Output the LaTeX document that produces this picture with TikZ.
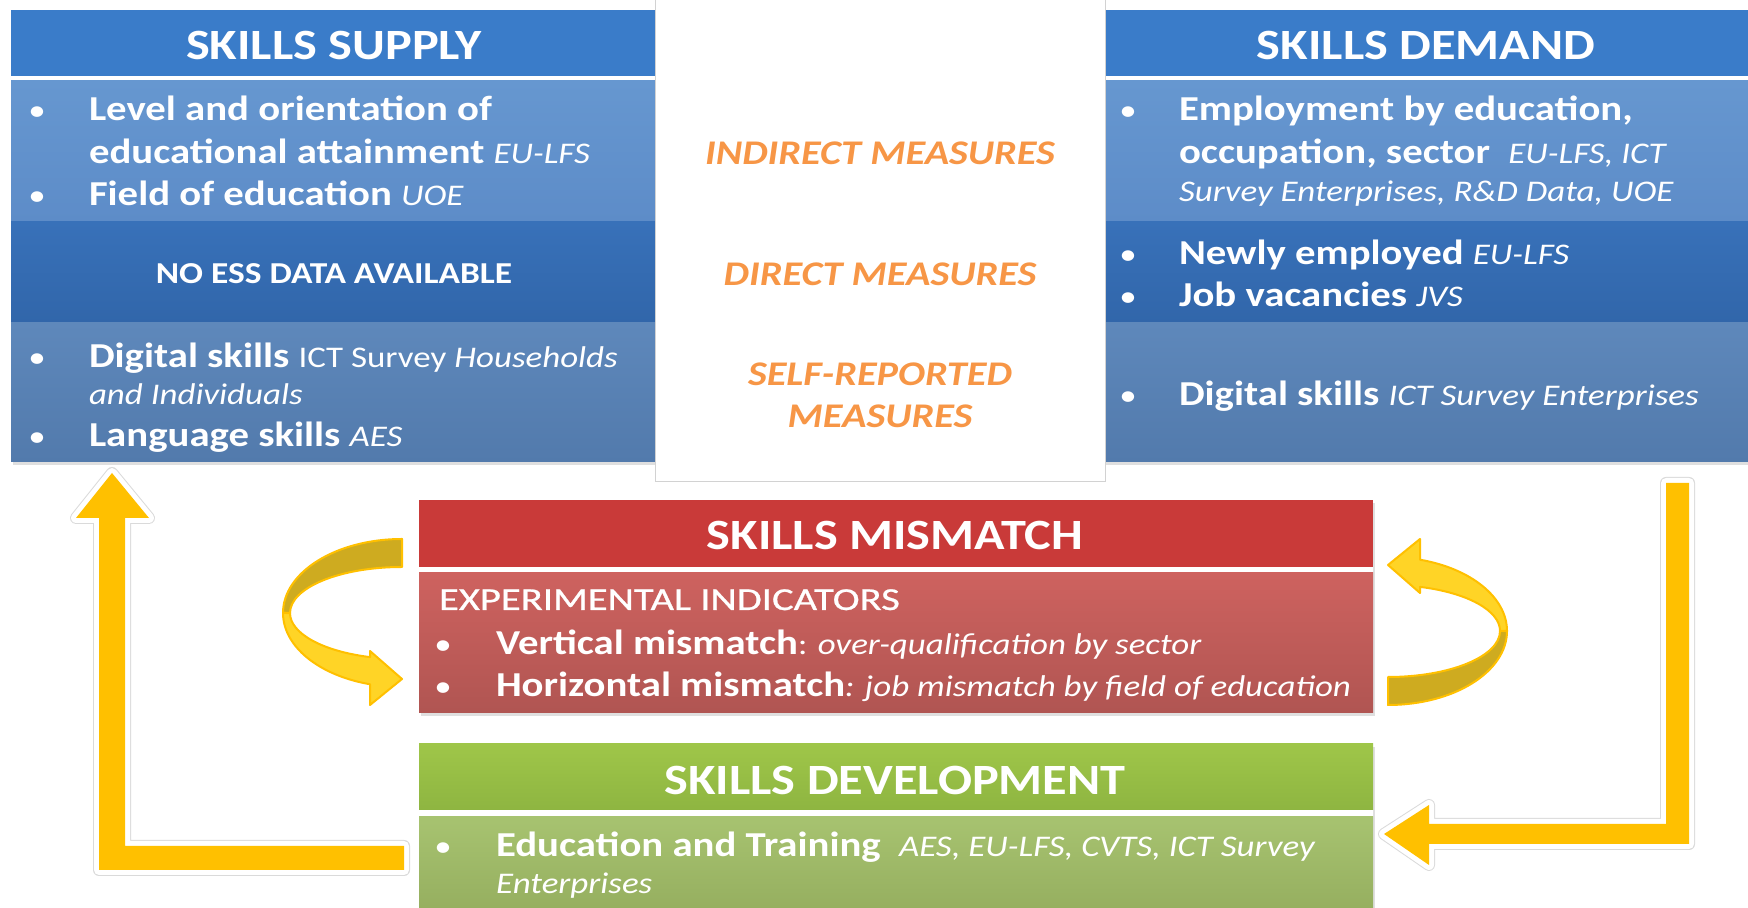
\documentclass[tikz,border=0pt]{standalone}
\usepackage{fontspec}
\setmainfont{Carlito}[FakeStretch=1.165]
\newfontfamily\widefont{Carlito}[FakeStretch=1.27,FakeBold=0.8]
\usetikzlibrary{shadows}

\newcommand\tfont{\fontsize{21.6}{25}\selectfont\bfseries\upshape}
\newcommand\bfont{\fontsize{17.5}{21}\selectfont\bfseries\upshape}
\newcommand\ifont{\fontsize{15}{18}\selectfont\mdseries\itshape}
\newcommand\rfont{\fontsize{15}{18}\selectfont\mdseries\upshape}
\newcommand\nfont{\fontsize{15.2}{17}\selectfont\bfseries\upshape}
\newcommand\efont{\widefont\fontsize{16}{18}\selectfont\mdseries\upshape}
\newcommand\ofont{\fontsize{17.3}{21}\selectfont\bfseries\itshape}

\tikzset{
  txt/.style={text=white,anchor=base west,inner sep=0pt,outer sep=0pt},
  dot/.style={text=white,anchor=base,inner sep=0pt,outer sep=0pt,font=\rfont},
  ttl/.style={text=white,anchor=base,inner sep=0pt,outer sep=0pt,font=\tfont},
  measure/.style={text=orangeColor,anchor=base,inner sep=0pt,outer sep=0pt,font=\ofont},
  boxshadow/.style={drop shadow={shadow xshift=1pt,shadow yshift=-1.5pt,opacity=0.25}},
  ribbon/.style={draw=goldColor,line width=1pt,line join=round},
  bigarrow/.style={fill=goldColor},
  rim/.style={draw=rimColor,line width=6pt,line join=round,fill=white},
  rimwhite/.style={draw=white,line width=5pt,line join=round}
}

\begin{document}
\begin{tikzpicture}[x=0.5pt,y=0.5pt]
\definecolor{fillColor}{RGB}{255,255,255}
\definecolor{orangeColor}{RGB}{247,150,70}
\definecolor{goldColor}{RGB}{255,192,0}
\definecolor{rimColor}{RGB}{218,218,218}
\path[use as bounding box,fill=fillColor] (0,0) rectangle (1748,908);

\begin{scope}
\definecolor{headColor}{RGB}{58,124,201}
\definecolor{lightTop}{RGB}{102,151,208}
\definecolor{lightBot}{RGB}{93,140,200}
\definecolor{darkTop}{RGB}{56,113,185}
\definecolor{darkBot}{RGB}{49,102,170}
\definecolor{lowTop}{RGB}{94,136,187}
\definecolor{lowBot}{RGB}{82,122,172}

\path[fill=white,boxshadow] (11,446) rectangle (655,898);
\path[fill=headColor] (11,832) rectangle (655,898);
\path[top color=lightTop,bottom color=lightBot] (11,686) rectangle (655,827);
\path[top color=darkTop,bottom color=darkBot] (11,585) rectangle (655,686);
\path[top color=lowTop,bottom color=lowBot] (11,446) rectangle (655,585);

\path[fill=white,boxshadow] (1104,446) rectangle (1748,898);
\path[fill=headColor] (1104,832) rectangle (1748,898);
\path[top color=lightTop,bottom color=lightBot] (1104,686) rectangle (1748,827);
\path[top color=darkTop,bottom color=darkBot] (1104,585) rectangle (1748,686);
\path[top color=lowTop,bottom color=lowBot] (1104,446) rectangle (1748,585);
\end{scope}

\begin{scope}
\definecolor{drawColor}{RGB}{210,210,210}

\path[draw=drawColor,line width=0.5pt,fill=white] (655,426) rectangle (1105,910);

\node (midInd) [measure] at (880,743.5) {INDIRECT MEASURES};

\node (midDir) [measure] at (880,622.5) {DIRECT MEASURES};

\node (midSelf) [measure] at (880,522.5) {SELF-REPORTED};

\node (midSelfB) [measure] at (880,480.5) {MEASURES};
\end{scope}

\begin{scope}
\node (supTitle) [ttl] at (334,848) {SKILLS SUPPLY};

\node (supB1) [dot] at (37,787) {\textbullet};

\node (supL1) [txt] at (89,787) {\bfont Level and orientation of};

\node (supL2) [txt] at (89,744.5) {\bfont educational attainment \ifont EU-LFS};

\node (supB2) [dot] at (37,702) {\textbullet};

\node (supL3) [txt] at (89,702) {\bfont Field of education \ifont UOE};

\node (supNo) [txt,anchor=base] at (334,624.5) {\nfont NO ESS DATA AVAILABLE};

\node (supB3) [dot] at (37,540.5) {\textbullet};

\node (supL4) [txt] at (89,540.5) {\bfont Digital skills \rfont ICT Survey \ifont Households};

\node (supL5) [txt] at (89,503) {\ifont and Individuals};

\node (supB4) [dot] at (37,461.4) {\textbullet};

\node (supL6) [txt] at (89,461.4) {\bfont Language skills \ifont AES};
\end{scope}

\begin{scope}
\node (demTitle) [ttl] at (1426,848) {SKILLS DEMAND};

\node (demB1) [dot] at (1128,787) {\textbullet};

\node (demL1) [txt] at (1179,787) {\bfont Employment by education,};

\node (demL2) [txt] at (1179,744.5) {\bfont occupation, sector\ \ \ifont EU-LFS, ICT};

\node (demL3) [txt] at (1179,706.4) {\ifont Survey Enterprises, R\&D Data, UOE};

\node (demB2) [dot] at (1128,643) {\textbullet};

\node (demL4) [txt] at (1179,643) {\bfont Newly employed \ifont EU-LFS};

\node (demB3) [dot] at (1128,601) {\textbullet};

\node (demL5) [txt] at (1179,601) {\bfont Job vacancies \ifont JVS};

\node (demB4) [dot] at (1128,502) {\textbullet};

\node (demL6) [txt] at (1179,502) {\bfont Digital skills \ifont ICT Survey Enterprises};
\end{scope}

\begin{scope}
\definecolor{headColor}{RGB}{201,58,57}
\definecolor{bodyTop}{RGB}{206,98,95}
\definecolor{bodyBot}{RGB}{176,85,82}

\path[fill=white,boxshadow] (419,195) rectangle (1373,408);
\path[fill=headColor] (419,341) rectangle (1373,408);
\path[top color=bodyTop,bottom color=bodyBot] (419,195) rectangle (1373,335);

\node (misTitle) [ttl] at (895,358) {SKILLS MISMATCH};

\node (misSub) [txt] at (439,298) {\efont EXPERIMENTAL INDICATORS};

\node (misB1) [dot] at (443,253) {\textbullet};

\node (misL1) [txt] at (496,253) {\bfont Vertical mismatch\rfont: \ifont over-qualification by sector};

\node (misB2) [dot] at (443,211) {\textbullet};

\node (misL2) [txt] at (496,211) {\bfont Horizontal mismatch\ifont: job mismatch by field of education};
\end{scope}

\begin{scope}
\definecolor{headTop}{RGB}{159,198,73}
\definecolor{headBot}{RGB}{142,181,65}
\definecolor{bodyTop}{RGB}{167,195,112}
\definecolor{bodyBot}{RGB}{148,173,94}

\path[fill=white,boxshadow] (419,-10) rectangle (1373,164);
\path[top color=headTop,bottom color=headBot] (419,98) rectangle (1373,164);
\path[top color=bodyTop,bottom color=bodyBot] (419,-10) rectangle (1373,91);

\node (devTitle) [ttl] at (895,113) {SKILLS DEVELOPMENT};

\node (devB1) [dot] at (443,51) {\textbullet};

\node (devL1) [txt] at (496,51) {\bfont Education and Training\ \ \ifont AES, EU-LFS, CVTS, ICT Survey};

\node (devL2) [txt] at (496,14) {\ifont Enterprises};
\end{scope}

\begin{scope}
\path[rim] (112,435) -- (149,390) -- (125,390) -- (125,62) -- (404,62) -- (404,38) -- (99,38) -- (99,390) -- (76,390) -- cycle;
\path[rimwhite] (112,435) -- (149,390) -- (125,390) -- (125,62) -- (404,62) -- (404,38) -- (99,38) -- (99,390) -- (76,390) -- cycle;
\path[bigarrow] (112,435) -- (149,390) -- (125,390) -- (125,62) -- (404,62) -- (404,38) -- (99,38) -- (99,390) -- (76,390) -- cycle;

\path[rim] (1666,425) -- (1689,425) -- (1689,64) -- (1429,64) -- (1429,43) -- (1384,74) -- (1429,103) -- (1429,84) -- (1666,84) -- cycle;
\path[rimwhite] (1666,425) -- (1689,425) -- (1689,64) -- (1429,64) -- (1429,43) -- (1384,74) -- (1429,103) -- (1429,84) -- (1666,84) -- cycle;
\path[bigarrow] (1666,425) -- (1689,425) -- (1689,64) -- (1429,64) -- (1429,43) -- (1384,74) -- (1429,103) -- (1429,84) -- (1666,84) -- cycle;
\end{scope}

\begin{scope}
\definecolor{tailColor}{RGB}{206,171,32}
\definecolor{headColor}{RGB}{255,212,38}

\foreach \turn in {0,180} {
\begin{scope}[rotate around={\turn:(895,286)}]
\path[ribbon,fill=tailColor] (402,369) arc[start angle=90,end angle=180,x radius=119,y radius=74] -- (290,295) arc[start angle=180,end angle=90,x radius=112,y radius=46] -- cycle;
\path[ribbon,fill=headColor] (283,295) arc[start angle=180,end angle=254.4,x radius=119,y radius=74] -- (370,203) -- (402,229) -- (370,257) -- (370,250.9) arc[start angle=253.4,end angle=180,x radius=112,y radius=46] -- cycle;
\end{scope}
}
\end{scope}
\end{tikzpicture}
\end{document}
